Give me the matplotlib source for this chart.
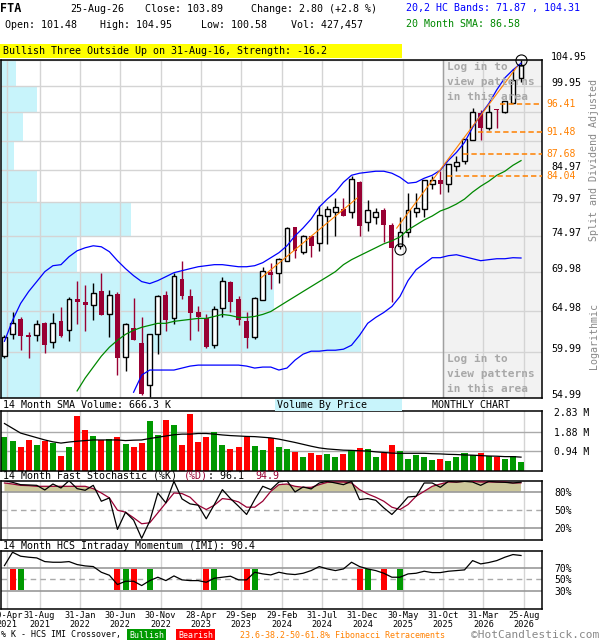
import matplotlib
matplotlib.use('Agg')
import matplotlib.pyplot as plt
from matplotlib.patches import Rectangle
from matplotlib.transforms import blended_transform_factory
import numpy as np

plt.rcParams['font.family'] = ['DejaVu Sans Mono', 'DejaVu Sans']
plt.rcParams['font.size'] = 7.2

W, H = 600, 640
MAROON = '#990033'
BLUE = '#0000ff'
GREEN = '#008800'
ORANGE = '#ff8000'
GRID = '#d4d4d4'
CYAN = '#c8f4fb'
VGREEN = '#009900'
VRED = '#ff0000'

# monthly candles, Apr-2021 .. Aug-2026
opens = [59.57, 62.11, 63.91, 62.05, 62.00, 63.43, 61.17, 63.67, 62.59, 66.39,
         66.02, 65.64, 67.53, 64.52, 67.15, 59.46, 62.83, 61.06, 56.38, 62.11,
         67.02, 64.03, 69.09, 66.77, 64.76, 64.03, 60.83, 65.26, 68.70, 66.39,
         63.67, 61.76, 66.27, 70.02, 69.88, 71.50, 76.27, 72.74, 74.98, 73.99,
         77.88, 78.48, 78.93, 78.48, 83.07, 77.00, 77.74, 78.78, 76.56, 73.57,
         75.55, 78.48, 78.93, 82.76, 83.39, 82.76, 85.64, 86.46, 89.98, 94.90,
         92.24, 95.63, 95.08, 96.72, 101.48]
highs = [62.00, 64.76, 64.15, 62.35, 63.79, 63.55, 64.64, 65.39, 66.65, 68.83,
         68.31, 68.57, 69.88, 67.66, 67.30, 63.43, 66.52, 64.15, 62.11, 66.90,
         67.53, 69.88, 71.50, 67.79, 65.51, 64.52, 65.51, 69.35, 68.83, 66.77,
         64.76, 66.65, 70.68, 71.23, 71.91, 76.27, 76.27, 75.10, 75.00, 79.38,
         79.38, 80.59, 80.59, 84.03, 83.23, 80.28, 79.08, 79.08, 76.85, 77.74,
         81.36, 81.36, 83.39, 84.03, 84.84, 85.97, 87.29, 90.32, 95.82, 95.45,
         96.36, 95.63, 97.09, 103.17, 104.95]
lows = [59.35, 61.52, 60.25, 59.35, 61.29, 59.91, 60.48, 61.76, 61.29, 63.31,
        62.47, 63.79, 64.39, 61.76, 57.46, 57.90, 61.41, 55.32, 55.10, 59.80,
        62.47, 63.31, 66.39, 61.41, 62.47, 60.48, 60.48, 64.15, 64.76, 63.19,
        60.48, 61.52, 66.27, 67.79, 68.57, 71.50, 71.91, 72.46, 72.05, 72.87,
        73.85, 74.98, 77.88, 77.59, 74.98, 75.69, 76.71, 74.13, 66.02, 73.15,
        74.83, 77.74, 77.74, 81.98, 81.21, 81.52, 84.84, 85.97, 89.98, 89.98,
        91.88, 92.24, 94.90, 96.72, 100.58]
closes = [61.76, 63.43, 61.95, 61.80, 63.31, 60.83, 63.43, 61.88, 66.39, 66.02,
          65.64, 67.28, 64.39, 66.90, 59.35, 63.31, 61.41, 55.43, 62.11, 66.77,
          63.79, 69.48, 66.77, 64.64, 64.15, 60.60, 65.14, 68.83, 66.02, 63.79,
          61.64, 66.52, 70.15, 69.62, 71.77, 76.12, 72.87, 74.98, 73.57, 78.03,
          78.93, 79.23, 77.88, 83.55, 76.42, 78.78, 78.48, 76.56, 73.29, 75.55,
          78.78, 79.08, 83.39, 83.39, 82.76, 85.97, 86.29, 90.32, 95.08, 92.24,
          95.08, 95.45, 97.09, 101.09, 103.89]

upper_band = [61.29, 63.79, 65.89, 67.41, 68.70, 70.02, 70.82, 70.96, 72.05, 72.87,
              73.29, 73.57, 73.43, 72.74, 71.50, 70.42, 69.48, 68.70, 68.44, 68.83,
              69.35, 69.88, 70.15, 70.42, 70.68, 70.82, 70.96, 70.96, 70.82, 70.68,
              70.68, 70.82, 71.23, 71.91, 72.60, 73.57, 74.98, 76.12, 77.44, 79.23,
              80.44, 81.52, 83.07, 84.19, 84.52, 84.68, 84.84, 84.84, 84.52, 83.87,
              82.92, 83.07, 83.71, 84.19, 85.00, 86.62, 87.95, 89.64, 92.24, 94.54,
              96.54, 99.14, 101.43, 102.98, 104.31]
lower_band = [np.nan] * 16 + [
              55.60, 57.46, 58.01, 58.01, 58.01, 58.01, 58.23, 58.45, 58.56, 58.56,
              58.56, 58.56, 58.56, 58.56, 58.45, 58.23, 58.34, 58.34, 58.01, 58.23,
              59.12, 59.80, 60.14, 60.14, 60.25, 60.25, 60.37, 60.83, 62.00, 63.43,
              64.15, 64.76, 65.51, 66.77, 68.83, 70.28, 71.09, 71.91, 71.91, 72.19,
              72.32, 72.05, 71.77, 71.50, 71.64, 71.77, 71.77, 71.91, 71.87]
sma20 = [np.nan] * 9 + [
         55.74, 57.13, 58.34, 59.57, 60.60, 61.41, 62.11, 62.59, 62.95, 63.19,
         63.43, 63.43, 63.67, 63.79, 63.91, 64.03, 64.03, 64.27, 64.52, 64.39,
         64.15, 64.15, 64.27, 64.52, 64.88, 65.51, 66.14, 66.77, 67.41, 68.05,
         68.70, 69.35, 70.02, 70.96, 71.64, 72.19, 72.74, 73.29, 73.85, 74.27,
         74.83, 75.84, 76.56, 77.29, 77.88, 78.63, 79.08, 79.68, 80.44, 81.52,
         82.44, 83.23, 84.19, 84.84, 85.81, 86.58]

# volume in millions
volume = [1.65, 1.43, 1.16, 1.48, 1.25, 1.46, 1.34, 0.74, 1.16, 2.64,
          1.99, 1.66, 1.49, 1.53, 1.62, 1.29, 1.16, 1.34, 2.40, 1.71,
          2.45, 2.22, 1.25, 2.76, 1.39, 1.62, 1.85, 1.25, 1.06, 1.16,
          1.62, 1.20, 1.02, 1.59, 1.16, 1.06, 0.92, 0.69, 0.88, 0.79,
          0.83, 0.69, 0.83, 1.02, 1.11, 1.06, 0.69, 0.88, 1.25, 0.97,
          0.60, 0.79, 0.65, 0.55, 0.60, 0.46, 0.65, 0.88, 0.79, 0.88,
          0.74, 0.65, 0.60, 0.74, 0.427]
vol_up = [1, 1, 0, 0, 1, 0, 1, 0, 1, 0,
          0, 1, 0, 1, 0, 1, 0, 0, 1, 1,
          0, 1, 0, 0, 0, 0, 1, 1, 0, 0,
          0, 1, 1, 0, 1, 1, 0, 1, 0, 0,
          1, 1, 0, 1, 0, 1, 1, 0, 0, 1,
          1, 1, 1, 1, 0, 1, 1, 1, 1, 0,
          1, 0, 1, 1, 1]
vol_sma14 = [2.28, 2.05, 1.82, 1.71, 1.60, 1.49, 1.40, 1.34, 1.39, 1.43,
             1.46, 1.49, 1.49, 1.49, 1.49, 1.46, 1.48, 1.49, 1.56, 1.62,
             1.68, 1.74, 1.77, 1.77, 1.80, 1.80, 1.77, 1.73, 1.70, 1.68,
             1.66, 1.65, 1.62, 1.59, 1.53, 1.45, 1.37, 1.28, 1.19, 1.11,
             1.06, 1.03, 1.00, 0.99, 0.97, 0.96, 0.92, 0.89, 0.86, 0.85,
             0.85, 0.85, 0.85, 0.83, 0.82, 0.80, 0.79, 0.77, 0.76, 0.74,
             0.72, 0.71, 0.69, 0.69, 0.666]

stoch_k = [98.5, 95.8, 91.9, 91.4, 90.8, 83.1, 93.0, 86.4, 98.5, 85.3,
           82.6, 90.8, 64.4, 69.9, 17.6, 46.2, 33.0, 2.8, 31.4, 78.1,
           61.6, 97.4, 68.2, 60.0, 57.8, 35.2, 58.9, 83.7, 68.8, 56.1,
           42.4, 67.1, 89.2, 83.7, 96.3, 98.5, 79.8, 88.1, 84.8, 94.7,
           97.4, 94.7, 91.9, 97.4, 67.1, 68.8, 66.0, 53.4, 42.4, 56.1,
           71.5, 72.6, 94.7, 94.7, 87.5, 97.4, 96.3, 97.4, 96.3, 90.8,
           97.4, 96.3, 95.8, 94.7, 96.1]
stoch_d = [94.7, 93.0, 90.8, 90.3, 89.2, 89.2, 89.2, 89.2, 89.2, 89.2,
           89.2, 85.3, 78.1, 69.9, 49.5, 46.2, 36.9, 27.0, 28.6, 45.1,
           61.6, 78.1, 77.1, 71.0, 57.8, 50.6, 57.8, 68.8, 67.1, 63.3,
           54.5, 54.5, 64.4, 80.9, 91.9, 93.0, 89.2, 87.5, 87.5, 91.9,
           95.8, 96.3, 96.3, 94.7, 83.7, 76.5, 71.0, 64.4, 54.5, 50.6,
           58.9, 72.6, 80.9, 89.2, 93.0, 96.3, 96.3, 97.4, 97.4, 96.3,
           96.3, 96.3, 96.3, 94.7, 94.9]
imi = [73.4, 95.9, 89.2, 87.5, 86.3, 80.1, 79.0, 79.0, 80.1, 75.1,
       72.8, 71.7, 62.1, 57.0, 41.3, 46.9, 46.9, 39.6, 48.0, 53.7,
       48.0, 55.9, 49.2, 48.0, 48.0, 45.2, 52.0, 53.7, 55.4, 49.2,
       49.2, 62.1, 59.3, 57.6, 62.1, 59.3, 58.2, 60.4, 64.9, 71.7,
       67.7, 64.9, 67.7, 79.0, 71.7, 67.7, 64.9, 60.4, 53.7, 53.7,
       59.3, 60.4, 63.8, 61.5, 61.5, 63.8, 64.9, 66.1, 81.8, 76.2,
       78.5, 81.8, 87.5, 92.0, 90.4]
bull_cross = [2, 15, 18, 26, 31, 45, 49]
bear_cross = [1, 14, 16, 25, 30, 44, 47]

date_ticks = [0, 4, 9, 14, 19, 24, 29, 34, 39, 44, 49, 54, 59, 64]
date_labels = ['30-Apr\n2021', '31-Aug\n2021', '31-Jan\n2022', '30-Jun\n2022',
               '30-Nov\n2022', '28-Apr\n2023', '29-Sep\n2023', '29-Feb\n2024',
               '31-Jul\n2024', '31-Dec\n2024', '30-May\n2025', '31-Oct\n2025',
               '31-Mar\n2026', '25-Aug\n2026']

price_grid = [54.99, 59.99, 64.98, 69.98, 74.97, 79.97, 84.97, 89.96, 94.96, 99.95, 104.95]
price_labels = ['54.99', '59.99', '64.98', '69.98', '74.97', '79.97', '84.97', '', '', '99.95', '104.95']

fib_levels = [96.41, 91.48, 87.68, 84.04]
fib_from = [61.4, 58.7, 56.8, 54.8]

# volume by price, bands between the price grid levels (millions)
vbp_volume = [2.6, 24.0, 18.2, 5.1, 8.7, 2.4, 0.9, 1.5, 2.4, 1.0]

trend_a = ([31.8, 43.7], [69.2, 80.6])
trend_b = ([48.6, 63.5], [76.1, 103.6])
circle_months = [64, 49]
circle_prices = [104.95, 73.15]

login_lines = ['Log in to', 'view patterns', 'in this area']

# ---------------------------------------------------------------
n = len(closes)
x = np.arange(n)
x_lo, x_hi = -0.43, 66.6
grid_x = [t + 0.35 for t in date_ticks]
CW = 0.602 * 7.2 * 100 / 72


def fx(px):
    return px / W


def fy(py):
    return 1 - py / H


fig = plt.figure(figsize=(6, 6.4), dpi=100)


def panel(top, bottom):
    return fig.add_axes([fx(1), fy(bottom), 541 / W, (bottom - top) / H])


ax = panel(60, 398)
axv = panel(411, 471)
axs = panel(481, 540)
axm = panel(551, 609)

# price panel
ax.set_yscale('log')
vbp = ax.twiny()
vbp.set_zorder(1)
ax.set_zorder(2)
ax.patch.set_visible(False)
vbp.barh(price_grid[:-1], vbp_volume, height=np.diff(price_grid), align='edge',
         color=CYAN, lw=0)
vbp.set_xlim(0, 36.07)
vbp.axis('off')

ax.set_ylim(55.2, 104.95)
ax.set_xlim(x_lo, x_hi)
ax.set_yticks(price_grid)
ax.minorticks_off()
ax.set_xticks(grid_x)
ax.tick_params(length=0, labelleft=False, labelbottom=False)
ax.set_axisbelow(True)
ax.grid(True, color=GRID, lw=1.0)

ax.axvspan(grid_x[11], x_hi, color='#f2f2f2', lw=0, zorder=0.2)
ax.axvline(grid_x[11], color='#a0a0a0', lw=1.0, zorder=0.6)

o = np.array(opens)
c = np.array(closes)
hi = np.array(highs)
lo = np.array(lows)
up = c >= o
ax.vlines(x, lo, hi, colors=np.where(up, 'black', MAROON), lw=1.0, zorder=3)
ax.bar(x[up], (c - o)[up], bottom=o[up], width=0.6, facecolor='white',
       edgecolor='black', lw=1.0, zorder=4)
ax.bar(x[~up], (o - c)[~up], bottom=c[~up], width=0.6, color=MAROON, lw=0, zorder=4)

ax.plot(x, upper_band, color=BLUE, lw=0.9, zorder=5)
ax.plot(x, lower_band, color=BLUE, lw=0.9, zorder=5)
ax.plot(x, sma20, color=GREEN, lw=0.9, zorder=5)
ax.plot(*trend_a, color=ORANGE, lw=0.8, zorder=5)
ax.plot(*trend_b, color=ORANGE, lw=0.8, zorder=5)
ax.plot(circle_months, circle_prices, 'o', ls='none', ms=8, mfc='none', mec='black',
        mew=0.8, clip_on=False, zorder=6)

trans = blended_transform_factory(ax.transAxes, ax.transData)
for lev, start in zip(fib_levels, fib_from):
    ax.plot([start, x_hi], [lev, lev], color=ORANGE, lw=1.1, ls=(0, (3.5, 2)), zorder=5)
    ax.text(1 + 4 / 541, lev, f'{lev:.2f}', transform=trans, va='center', ha='left',
            color=ORANGE, fontsize=7)
for p, lab in zip(price_grid, price_labels):
    ax.text(1 + 9 / 541, p, lab, transform=trans, va='baseline', ha='left', fontsize=7.2)

for i, line in enumerate(login_lines):
    for y0 in (67, 359):
        fig.text(fx(447), fy(y0 + 15 * i), line, va='center', ha='left', color='#a8a8a8',
                 fontsize=8, weight='bold')

fig.text(fx(594), fy(160), 'Split and Dividend Adjusted', rotation=90, va='center',
         ha='center', color='#888888')
fig.text(fx(594), fy(336), 'Logarithmic', rotation=90, va='center', ha='center',
         color='#888888')

# volume panel
axv.bar(x, volume, width=0.75, color=[VGREEN if u else VRED for u in vol_up], zorder=2)
axv.plot(x, vol_sma14, color='black', lw=0.9, zorder=3)
axv.axhline(0.94, color='#aaaaaa', lw=1.0, zorder=1)
axv.axhline(1.88, color='#aaaaaa', lw=1.0, zorder=1)
axv.set_ylim(0, 2.88)
axv.set_xlim(x_lo, x_hi)
axv.set_xticks(grid_x)
axv.set_yticks([0.94, 1.88, 2.83])
axv.set_yticklabels(['0.94 M', '1.88 M', '2.83 M'])
axv.yaxis.tick_right()
axv.tick_params(length=0, labelbottom=False, pad=9, labelsize=7)
axv.set_axisbelow(True)
axv.grid(axis='x', color=GRID, lw=1.0)

# stochastic panel
k = np.array(stoch_k)
d = np.array(stoch_d)
axs.fill_between(x, 80, d, where=d >= 80, interpolate=True, color='#cdc89b', lw=0, zorder=1)
axs.axhline(80, color='#999999', lw=1.2, zorder=1.5)
axs.axhline(20, color='#999999', lw=1.2, zorder=1.5)
axs.axhline(50, color='#aaaaaa', lw=1.0, ls=(0, (4, 3)), zorder=1.5)
axs.plot(x, d, color=MAROON, lw=0.9, zorder=3)
axs.plot(x, k, color='black', lw=0.9, zorder=3)
axs.set_ylim(0, 98)
axs.set_xlim(x_lo, x_hi)
axs.set_xticks(grid_x)
axs.set_yticks([20, 50, 80])
axs.set_yticklabels(['20%', '50%', '80%'])
axs.yaxis.tick_right()
axs.tick_params(length=0, labelbottom=False, pad=9, labelsize=7)
axs.set_axisbelow(True)
axs.grid(axis='x', color=GRID, lw=1.0)

# intraday momentum panel
axm.axhline(70, color='#999999', lw=1.2, zorder=1.5)
axm.axhline(30, color='#999999', lw=1.2, zorder=1.5)
axm.axhline(50, color='#aaaaaa', lw=1.0, ls=(0, (4, 3)), zorder=1.5)
axm.bar(bull_cross, 36, bottom=32, width=0.75, color=VGREEN, zorder=2)
axm.bar(bear_cross, 36, bottom=32, width=0.75, color=VRED, zorder=2)
axm.plot(x, imi, color='black', lw=0.9, zorder=3)
axm.set_ylim(0, 98)
axm.set_xlim(x_lo, x_hi)
axm.set_xticks(grid_x)
axm.set_xticklabels(date_labels, fontsize=6.2, linespacing=1.0)
axm.set_yticks([30, 50, 70])
axm.set_yticklabels(['30%', '50%', '70%'])
axm.yaxis.tick_right()
axm.tick_params(length=0, pad=9, labelsize=7)
axm.tick_params(axis='x', pad=1.2, labelsize=6.2)
axm.set_axisbelow(True)
axm.grid(axis='x', color=GRID, lw=1.0)

for a in (ax, axv, axs, axm):
    for s in a.spines.values():
        s.set_linewidth(1.1)
        s.set_color('black')


def seg_text(x0, y0, parts, **kw):
    pos = 0
    for txt, col in parts:
        fig.text(fx(x0 + pos * CW), fy(y0), txt, color=col, va='center', ha='left', **kw)
        pos += len(txt)


# header
fig.text(fx(0), fy(9), 'FTA', weight='bold', fontsize=8.5, va='center')
fig.text(fx(70), fy(9), '25-Aug-26', va='center')
fig.text(fx(145), fy(9), 'Close: 103.89', va='center')
fig.text(fx(251), fy(9), 'Change: 2.80 (+2.8 %)', va='center')
fig.text(fx(5), fy(25), 'Open: 101.48', va='center')
fig.text(fx(100), fy(25), 'High: 104.95', va='center')
fig.text(fx(201), fy(25), 'Low: 100.58', va='center')
fig.text(fx(291), fy(25), 'Vol: 427,457', va='center')
fig.text(fx(406), fy(8), '20,2 HC Bands: 71.87 , 104.31', color=BLUE, va='center')
fig.text(fx(406), fy(24), '20 Month SMA: 86.58', color=GREEN, va='center')

fig.patches.append(Rectangle((fx(0), fy(58)), fx(402), 14 / H, transform=fig.transFigure,
                             facecolor='#ffff00', edgecolor='none'))
fig.text(fx(3), fy(51), 'Bullish Three Outside Up on 31-Aug-16, Strength: -16.2', va='center')

# panel captions
fig.text(fx(3), fy(405), '14 Month SMA Volume: 666.3 K', va='center')
fig.patches.append(Rectangle((fx(275), fy(411)), 127 / W, 12 / H, transform=fig.transFigure,
                             facecolor=CYAN, edgecolor='none'))
fig.text(fx(277), fy(405), 'Volume By Price', va='center')
fig.text(fx(432), fy(405), 'MONTHLY CHART', va='center')

seg_text(3, 476, [('14 Month Fast Stochastic (%K) ', 'black'), ('(%D)', MAROON),
                  (': 96.1  ', 'black'), ('94.9', MAROON)])
fig.text(fx(3), fy(546), '14 Month HCS Intraday Momentum (IMI): 90.4', va='center')

# footer legend
fig.text(fx(1), fy(635), '% K - HCS IMI Crossover,', va='center', fontsize=6.0)
fig.text(fx(129), fy(635), 'Bullish', va='center', color='white', fontsize=6.0,
         bbox=dict(facecolor=VGREEN, edgecolor='none', pad=1.2))
fig.text(fx(178), fy(635), 'Bearish', va='center', color='white', fontsize=6.0,
         bbox=dict(facecolor=VRED, edgecolor='none', pad=1.2))
fig.text(fx(240), fy(635), '23.6-38.2-50-61.8% Fibonacci Retracements', va='center',
         color=ORANGE, fontsize=6.0)
fig.text(fx(599), fy(638.5), '\u00a9HotCandlestick.com', va='baseline', ha='right',
         color='#888888', fontsize=8.0)

fig.savefig('out.png', dpi=100)
